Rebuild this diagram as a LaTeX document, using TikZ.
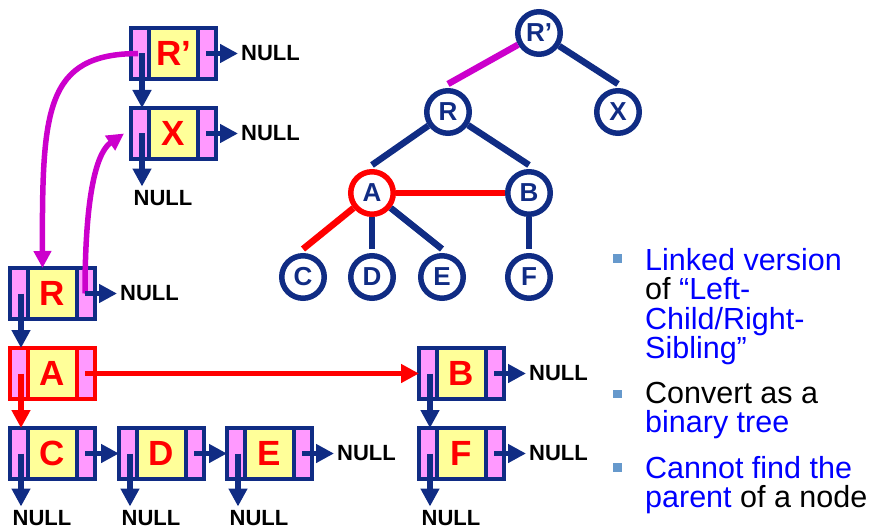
\documentclass[tikz,border=0pt]{standalone}
\usepackage{fontspec}
\setmainfont{Liberation Sans}
\usetikzlibrary{arrows.meta,calc}
\definecolor{navy}{RGB}{16,44,132}
\definecolor{pinkfill}{RGB}{255,153,255}
\definecolor{yelfill}{RGB}{255,255,153}
\definecolor{magc}{RGB}{204,0,204}
\definecolor{txtblue}{RGB}{0,0,255}
\definecolor{bulletblue}{RGB}{102,153,204}
\definecolor{redc}{RGB}{255,0,0}
\tikzset{
  recbox/.style={rectangle, fill=pinkfill, line width=3.2pt, minimum width=85pt, minimum height=51pt, inner sep=0pt, outer sep=0pt},
  reclabel/.style={text=redc, font=\fontsize{35}{35}\selectfont\bfseries, inner sep=0pt},
  nulltxt/.style={font=\fontsize{22}{22}\selectfont\bfseries, inner sep=0pt, text=black},
  ptr/.style={draw=navy, line width=5.5pt, -{Triangle[length=18pt,width=18pt]}},
  redptr/.style={ptr, draw=redc},
  magptr/.style={draw=magc, line width=5.5pt, -{Triangle[length=17pt,width=17pt]}},
  tnode/.style={circle, draw=navy, fill=white, line width=5.5pt, minimum size=42.5pt, inner sep=0pt, text=navy, font=\fontsize{26}{26}\selectfont\bfseries},
  tedge/.style={draw=navy, line width=6.5pt},
  bsq/.style={rectangle, fill=bulletblue, minimum size=8.5pt, inner sep=0pt},
  btext/.style={font=\fontsize{30.5}{30.5}\selectfont, inner sep=0pt, anchor=base west, text=txtblue},
}
\newcommand\mkrec[5]{%
  \node[recbox, draw=#5] (#1) at ({(#2+42.5)*1pt},{-(#3+25.5)*1pt}) {};
  \fill[yelfill] ([xshift=18pt,yshift=1.6pt]#1.south west) rectangle ([xshift=-18pt,yshift=-1.6pt]#1.north east);
  \draw[#5, line width=3.2pt] ([xshift=18pt]#1.south west) -- ([xshift=18pt]#1.north west)
     ([xshift=-18pt]#1.south east) -- ([xshift=-18pt]#1.north east);
  \node[reclabel] (#1-t) at (#1) {#4};
  \coordinate (#1-l) at ([xshift=11pt]#1.west);
  \coordinate (#1-r) at ([xshift=-10pt]#1.east);
}
\newcommand\rnull[1]{%
  \node[nulltxt, anchor=west] (#1-rn) at ([xshift=35pt]#1-r) {NULL};
  \draw[ptr, shorten >=3pt] (#1-r) -- (#1-rn.west);
}
\newcommand\dnull[1]{%
  \node[nulltxt, anchor=north west] (#1-dn) at ([xshift=-8.5pt,yshift=-57pt]#1-l) {NULL};
  \draw[ptr, shorten >=4pt] (#1-l) -- (#1-l |- #1-dn.north);
}
\begin{document}
\begin{tikzpicture}
\useasboundingbox (0,0) rectangle (894pt,-532pt);
% ---------- linked records ----------
\mkrec{Rp}{131}{28}{R’}{navy}
\mkrec{X}{131}{108}{X}{navy}
\mkrec{R}{10}{268}{R}{navy}
\mkrec{A}{10}{348}{A}{redc}
\mkrec{C}{10}{428}{C}{navy}
\mkrec{D}{119}{428}{D}{navy}
\mkrec{E}{227}{428}{E}{navy}
\mkrec{B}{419}{348}{B}{navy}
\mkrec{F}{419}{428}{F}{navy}
% magenta links
\draw[magptr] ([xshift=-4pt]Rp-l) .. controls (45pt,-54pt) and (42pt,-110pt) .. ([xshift=-10pt]R.north);
\draw[magptr] (R-r) .. controls (85pt,-180pt) and (100pt,-150pt) .. ([xshift=-7pt]X.west);
% pointers
\draw[ptr] (Rp-l) -- (Rp-l |- X.north);
\draw[ptr] (R-l) -- (R-l |- A.north);
\draw[redptr] (A-l) -- (A-l |- C.north);
\draw[redptr] (A-r) -- (B.west);
\draw[ptr] (B-l) -- (B-l |- F.north);
\draw[ptr] (C-r) -- (D.west);
\draw[ptr] (D-r) -- (E.west);
\rnull{Rp}
\rnull{X}
\rnull{R}
\rnull{E}
\rnull{B}
\rnull{F}
\dnull{X}
\dnull{C}
\dnull{D}
\dnull{E}
\dnull{F}
% ---------- tree ----------
\node[tnode] (tRp) at (539pt,-33pt) {R’};
\node[tnode] (tR) at (448pt,-112pt) {R};
\node[tnode] (tX) at (618pt,-112pt) {X};
\node[tnode, draw=redc] (tA) at (372pt,-193pt) {A};
\node[tnode] (tB) at (529pt,-193pt) {B};
\node[tnode] (tC) at (303pt,-277pt) {C};
\node[tnode] (tD) at (372pt,-277pt) {D};
\node[tnode] (tE) at (442pt,-277pt) {E};
\node[tnode] (tF) at (529pt,-277pt) {F};
\draw[tedge, draw=magc] (tRp) -- ([yshift=4pt]tR.north);
\draw[tedge] (tRp) -- ([yshift=4pt]tX.north);
\draw[tedge] (tR) -- ([yshift=4pt]tA.north);
\draw[tedge] (tR) -- ([yshift=4pt]tB.north);
\draw[tedge, draw=redc] (tA) -- (tB);
\draw[tedge, draw=redc] (tA) -- ([yshift=4pt]tC.north);
\draw[tedge] (tA) -- ([yshift=4pt]tD.north);
\draw[tedge] (tA) -- ([yshift=4pt]tE.north);
\draw[tedge] (tB) -- ([yshift=4pt]tF.north);
% ---------- bullets ----------
\node[bsq] (b1) at (617.5pt,-258.5pt) {};
\node[bsq] (b2) at (617.5pt,-394pt) {};
\node[bsq] (b3) at (617.5pt,-467.5pt) {};
\node[btext] (l1) at (645pt,-270pt) {Linked version};
\node[btext] (l2) at (645pt,-299.5pt) {\textcolor{black}{of} “Left-};
\node[btext] (l3) at (645pt,-329pt) {Child/Right-};
\node[btext] (l4) at (645pt,-358.5pt) {Sibling”};
\node[btext, text=black] (l5) at (645pt,-403pt) {Convert as a};
\node[btext] (l6) at (645pt,-432pt) {binary tree};
\node[btext] (l7) at (645pt,-478pt) {Cannot find the};
\node[btext] (l8) at (645pt,-507pt) {parent \textcolor{black}{of a node}};
\end{tikzpicture}
\end{document}
